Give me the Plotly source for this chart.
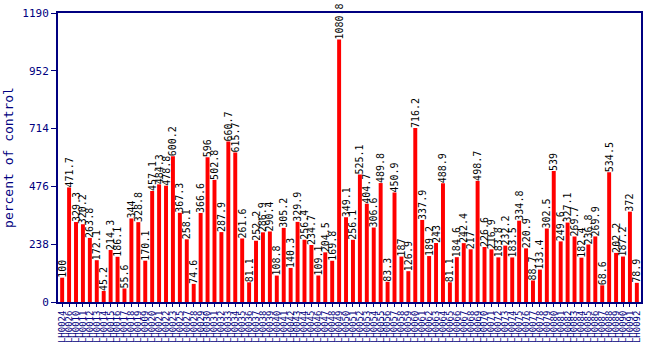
import plotly.graph_objects as go

values = [100, 471.7, 329.3, 320.2, 263.8, 172.1, 45.2, 214.3, 186.1, 55.6,
          344, 328.8, 170.1, 457.1, 484.3, 478.8, 600.2, 367.3, 258.1, 74.6,
          366.6, 596, 502.8, 287.9, 660.7, 615.7, 261.6, 81.1, 252.2, 286.9,
          290.4, 108.8, 305.2, 140.3, 329.9, 256.4, 234.7, 109.1, 204.5, 169.8,
          1080.8, 349.1, 256.1, 525.1, 404.7, 306.6, 489.8, 83.3, 450.9, 187,
          126.9, 716.2, 337.9, 189.2, 243, 488.9, 81.1, 184.6, 242.4, 217,
          498.7, 226.6, 216.9, 183.8, 232.2, 183.5, 334.8, 220.9, 88.7, 133.4,
          302.5, 539, 249.6, 327.1, 269.7, 182.4, 236.8, 269.9, 68.6, 534.5,
          202.2, 187.2, 372, 78.9]

categories = ["LH0024", "LH0026", "LH0010", "LH0011", "LH0012", "LH0013", "LH0014",
              "LH0015", "LH0016", "LH0017", "LH0018", "LH0019", "LH0009", "LH0020",
              "LH0021", "LH0022", "LH0023", "LH0025", "LH0027", "LH0028", "LH0029",
              "LH0030", "LH0031", "LH0032", "LH0033", "LH0034", "LH0035", "LH0036",
              "LH0037", "LH0038", "LH0039", "LH0040", "LH0041", "LH0042", "LH0043",
              "LH0044", "LH0045", "LH0046", "LH0047", "LH0048", "LH0049", "LH0050",
              "LH0051", "LH0052", "LH0053", "LH0054", "LH0055", "LH0056", "LH0057",
              "LH0058", "LH0059", "LH0060", "LH0061", "LH0062", "LH0063", "LH0064",
              "LH0065", "LH0066", "LH0067", "LH0068", "LH0069", "LH0070", "LH0071",
              "LH0072", "LH0073", "LH0074", "LH0075", "LH0076", "LH0077", "LH0078",
              "LH0079", "LH0080", "LH0081", "LH0082", "LH0083", "LH0084", "LH0085",
              "LH0086", "LH0087", "LH0088", "LH0089", "LH0090", "LH0091", "LH0092"]

yticks = [0, 238, 476, 714, 952, 1190]

labels = [("%g" % v) for v in values]

navy = "#000080"
mono = "DejaVu Sans Mono"

fig = go.Figure(go.Bar(
    x=categories, y=values, marker_color="#ff0000", marker_line_width=0,
    text=labels, textposition="outside", textangle=-90,
    constraintext="none",
    textfont=dict(family=mono, size=10, color="black"),
    cliponaxis=False, width=0.57,
))

fig.update_layout(
    width=650, height=350,
    margin=dict(l=55, r=7, t=10, b=47),
    plot_bgcolor="white", paper_bgcolor="white",
    showlegend=False,
)
fig.update_yaxes(
    range=[0, 1190], tickmode="array", tickvals=yticks,
    ticktext=[str(t) for t in yticks],
    ticks="outside", ticklen=5, tickcolor=navy, tickwidth=1,
    showgrid=False, zeroline=False,
    showline=True, linecolor=navy, linewidth=2, mirror=True,
    tickfont=dict(family=mono, size=11, color=navy),
    title=dict(text="percent of control", font=dict(family=mono, size=13, color=navy), standoff=6),
)
fig.update_xaxes(
    tickmode="array", tickvals=categories, ticktext=categories,
    tickangle=-90, ticks="outside", ticklen=3, tickcolor=navy,
    showline=True, linecolor=navy, linewidth=2, mirror=True,
    tickfont=dict(family=mono, size=9, color=navy),
    range=[-0.6, len(categories) - 0.4],
)

fig.write_html("out.html")
